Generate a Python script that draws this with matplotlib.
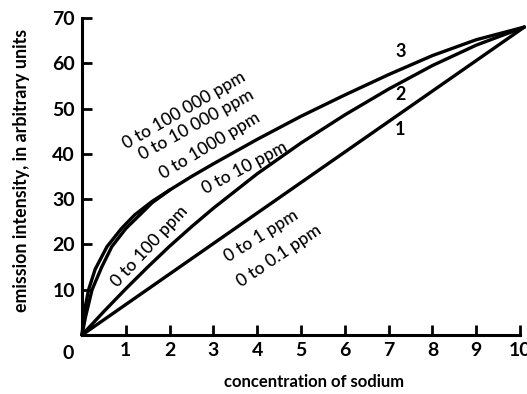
import matplotlib
matplotlib.use("Agg")
import matplotlib.pyplot as plt

# ---- data ----
conc_3a = [0, 0.05, 0.15, 0.3, 0.57, 0.9, 1.2, 1.6, 2, 2.5, 3, 4, 5, 6, 7, 8, 9, 10.1]
int_3a = [0, 5, 10, 14.5, 19.5, 23.5, 26.5, 29.5, 32, 35, 37.8, 43.2, 48.3, 53, 57.5, 61.7, 65.2, 68]

conc_3b = [0, 0.08, 0.23, 0.45, 0.68, 1.0, 1.36, 1.6, 2.0]
int_3b = [0, 4, 10, 15, 19.5, 23.5, 26.9, 29.2, 32]

conc_2 = [0, 0.5, 1, 1.5, 2, 2.5, 3, 4, 5, 6, 7, 8, 9, 10.1]
int_2 = [0, 5.2, 10.2, 15, 19.6, 23.9, 28, 35.6, 42.4, 48.6, 54.3, 59.5, 64, 68]

conc_1 = [0, 10.1]
int_1 = [0, 68]

x_ticks = [1, 2, 3, 4, 5, 6, 7, 8, 9, 10]
y_ticks = [10, 20, 30, 40, 50, 60, 70]

range_labels = ["0 to 100 000 ppm", "0 to 10 000 ppm", "0 to 1000 ppm",
                "0 to 10 ppm", "0 to 100 ppm", "0 to 1 ppm", "0 to 0.1 ppm"]
range_pos = [(2.34, 49.6), (2.62, 46.4), (2.92, 41.8), (3.72, 37.0),
             (1.55, 19.6), (4.1, 21.9), (4.5, 17.4)]
range_rot = [30, 29, 31, 28, 47, 32, 34]

curve_numbers = ["3", "2", "1"]
curve_num_pos = [(7.27, 62.5), (7.27, 53.0), (7.27, 45.3)]

# ---- figure ----
plt.rcParams['font.family'] = ['Lato', 'DejaVu Sans']
fig = plt.figure(figsize=(5.27, 3.94), dpi=100)
ax = fig.add_axes([82 / 527, 1 - 335 / 394, (520 - 82) / 527, (335 - 18) / 394])

lw = 2.4
for cx, cy in [(conc_3a, int_3a), (conc_3b, int_3b), (conc_2, int_2), (conc_1, int_1)]:
    ax.plot(cx, cy, color='black', lw=lw, solid_joinstyle='round',
            solid_capstyle='round', clip_on=False)

ax.set_xlim(0, 10)
ax.set_ylim(0, 70)
for s in ['top', 'right']:
    ax.spines[s].set_visible(False)
for s in ['left', 'bottom']:
    ax.spines[s].set_linewidth(2.2)

ax.set_xticks(x_ticks)
ax.set_yticks(y_ticks)
ax.set_xticklabels([str(v) for v in x_ticks])
ax.set_yticklabels([str(v) for v in y_ticks])
ax.tick_params(axis='both', direction='in', length=7, width=2, labelsize=14, pad=5)
for lab in ax.get_xticklabels() + ax.get_yticklabels():
    lab.set_fontweight('bold')

ax.annotate("0", xy=(0, 0), xytext=(-10, -13), textcoords='offset points',
            ha='center', va='center', fontsize=14, fontweight='bold',
            annotation_clip=False)

for txt, (tx, ty), r in zip(range_labels, range_pos, range_rot):
    ax.text(tx, ty, txt, rotation=r, rotation_mode='anchor', ha='center', va='center',
            fontsize=12.5, fontweight='medium', color='black')

for txt, (tx, ty) in zip(curve_numbers, curve_num_pos):
    ax.text(tx, ty, txt, ha='center', va='center', fontsize=13, fontweight='bold')

fig.text(22 / 527, 1 - 170 / 394, "emission intensity, in arbitrary units",
         rotation=90, ha='center', va='center', fontsize=12.8, fontweight='bold')
fig.text(314 / 527, 1 - 382 / 394, "concentration of sodium",
         ha='center', va='center', fontsize=12, fontweight='bold')

fig.savefig("out.png", dpi=100)
